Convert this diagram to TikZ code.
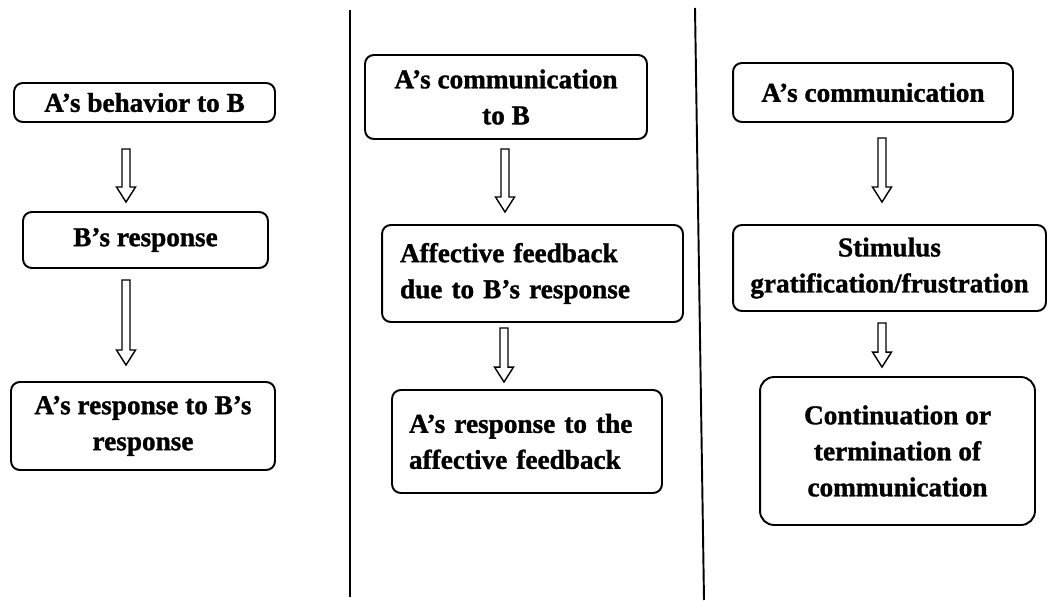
\documentclass[tikz,border=0pt]{standalone}
\usepackage{fontspec}
\setmainfont{Liberation Serif}[BoldFeatures={FakeBold=1.2}]
\usetikzlibrary{calc}

\tikzset{
    box/.style={draw, line width=1.1pt, rounded corners=5pt, align=center,
        inner sep=0pt, font=\fontsize{15.5}{20.5}\selectfont\bfseries},
    divider/.style={line width=1.1pt},
    % freccia vuota: #1 distanza dall'alto, #2 distanza dal basso (in px)
    hollow/.style 2 args={draw, line width=0.8pt, to path={
        let \p1=(\tikztostart), \p2=(\tikztotarget) in
        (\x1-0.08cm,\y1-#1*0.02cm) -- (\x1-0.08cm,\y2+#2*0.02cm+0.3cm)
        -- (\x1-0.19cm,\y2+#2*0.02cm+0.3cm) -- (\x1,\y2+#2*0.02cm)
        -- (\x1+0.19cm,\y2+#2*0.02cm+0.3cm) -- (\x1+0.08cm,\y2+#2*0.02cm+0.3cm)
        -- (\x1+0.08cm,\y1-#1*0.02cm) -- cycle}},
}

\begin{document}
\begin{tikzpicture}[x=0.02cm, y=-0.02cm]
    \useasboundingbox (0,0) rectangle (1048,601);

    % Separatori
    \draw[divider] (350,10) -- (350,597);
    \draw[divider] (695,8) -- (704,600);

    % Colonna 1
    \node[box, minimum width=5.22cm, minimum height=0.78cm] (b1) at (144.5,102.5) {A’s behavior to B};
    \node[box, minimum width=4.9cm, minimum height=1.12cm] (b2) at (145.5,240) {B’s response};
    \node[box, minimum width=5.28cm, minimum height=1.76cm] (b3) at (143,426) {A’s response to B’s\\response};
    \draw[hollow={26}{9}] ([xshift=-0.37cm]b1.south) to (b2.north);
    \draw[hollow={11}{16}] ([xshift=-0.39cm]b2.south) to (b3.north);

    % Colonna 2
    \node[box, minimum width=5.64cm, minimum height=1.68cm] (m1) at (506,97) {A’s communication\\to B};
    \node[box, align=left, inner xsep=0.36cm, text width=5.3cm, minimum height=1.94cm] (m2) at (532.5,273.5) {Affective feedback\\due to B’s response};
    \node[box, align=left, inner xsep=0.34cm, text width=4.72cm, minimum height=2.06cm] (m3) at (527,441.5) {A’s response to the\\affective feedback};
    \draw[hollow={9}{12}] ([xshift=-0.02cm]m1.south) to (m2.north);
    \draw[hollow={5}{7}] ([xshift=-0.57cm]m2.south) to (m3.north);

    % Colonna 3
    \node[box, minimum width=5.6cm, minimum height=1.18cm] (r1) at (873,92.5) {A’s communication};
    \node[box, minimum width=6.26cm, minimum height=1.72cm] (r2) at (889.5,268) {Stimulus\\gratification/frustration};
    \node[box, rounded corners=8pt, minimum width=5.5cm, minimum height=2.96cm] (r3) at (897.5,451) {Continuation or\\termination of\\communication};
    \draw[hollow={15}{22}] ([xshift=0.18cm]r1.south) to (r2.north);
    \draw[hollow={11}{9}] ([xshift=-0.15cm]r2.south) to (r3.north);
\end{tikzpicture}
\end{document}
